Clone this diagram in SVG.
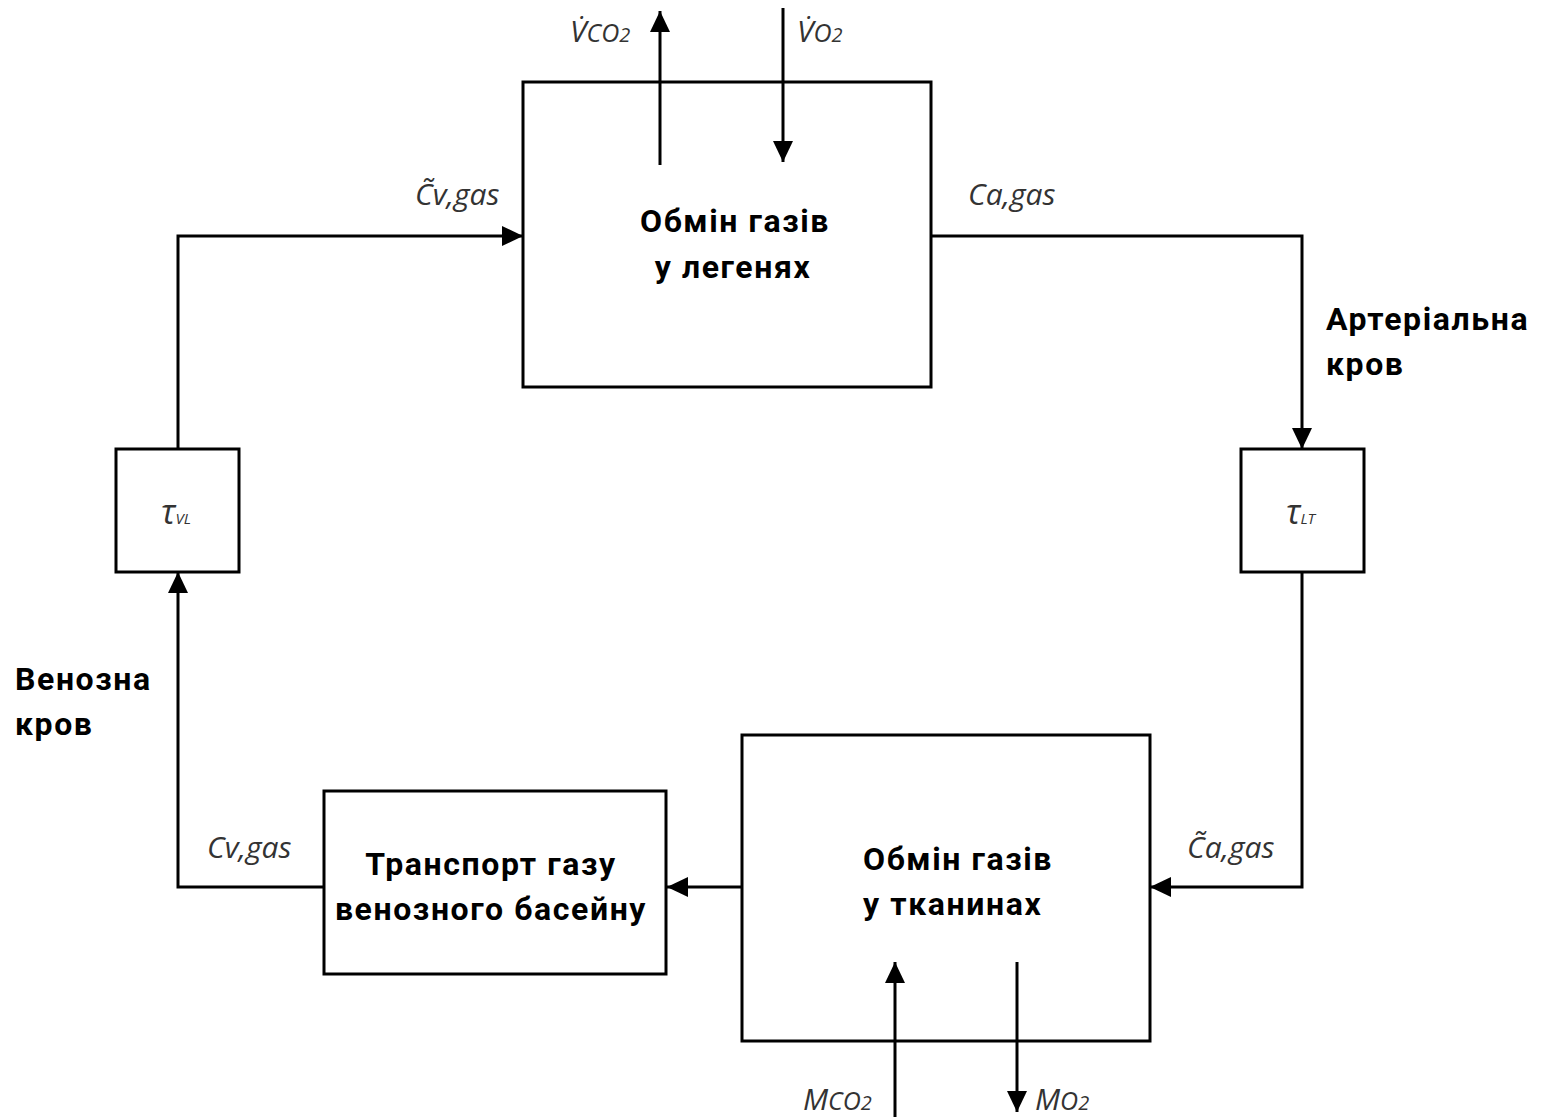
<svg xmlns="http://www.w3.org/2000/svg" width="1545" height="1117" viewBox="0 0 1545 1117">
  <defs>
    <marker id="arrow" viewBox="0 0 10 10" refX="10" refY="5" markerWidth="21" markerHeight="20" markerUnits="userSpaceOnUse" orient="auto" preserveAspectRatio="none">
      <path d="M0,0 L10,5 L0,10 z" fill="#000"/>
    </marker>
    <style>
      .box { fill: #fff; stroke: #000; stroke-width: 3; }
      .wire { fill: none; stroke: #000; stroke-width: 3; }
      .title { font-family: Roboto, "Noto Sans", sans-serif; font-weight: bold; font-size: 32px; letter-spacing: 1.6px; fill: #000; }
      .sym { font-family: "Open Sans", "Noto Sans", sans-serif; font-style: italic; font-size: 30px; fill: #333; }
      .sub { font-size: 25px; }
      .two { font-size: 20px; }
      .tau { font-family: "Open Sans", "Noto Sans", sans-serif; font-style: italic; font-size: 34px; fill: #333; }
      .tsub { font-size: 15px; }
    </style>
  </defs>

  <!-- flows between blocks -->
  <g id="connectors">
    <!-- venous blood up through tau_VL into the lungs -->
    <path class="wire" d="M178,449 V236 H523" marker-end="url(#arrow)"/>
    <!-- arterial blood from the lungs down to tau_LT -->
    <path class="wire" d="M931,236 H1302 V449" marker-end="url(#arrow)"/>
    <!-- tau_LT to tissue exchange -->
    <path class="wire" d="M1302,572 V887 H1150" marker-end="url(#arrow)"/>
    <!-- tissue exchange to venous pool -->
    <path class="wire" d="M742,887 H667" marker-end="url(#arrow)"/>
    <!-- venous pool up to tau_VL -->
    <path class="wire" d="M324,887 H178 V572" marker-end="url(#arrow)"/>
    <!-- lung gas flows -->
    <path class="wire" d="M660,165 V11" marker-end="url(#arrow)"/>
    <path class="wire" d="M783,8 V162" marker-end="url(#arrow)"/>
    <!-- tissue metabolic flows -->
    <path class="wire" d="M895,1117 V962" marker-end="url(#arrow)"/>
    <path class="wire" d="M1017,962 V1112" marker-end="url(#arrow)"/>
  </g>

  <g id="lungs">
    <rect class="box" x="523" y="82" width="408" height="305" style="fill:none"/>
    <text class="title" x="735" y="232" text-anchor="middle">Обмін газів</text>
    <text class="title" x="733" y="278" text-anchor="middle">у легенях</text>
  </g>

  <g id="tau-vl">
    <rect class="box" x="116" y="449" width="123" height="123"/>
    <text class="tau" x="161" y="524">τ<tspan class="tsub">VL</tspan></text>
  </g>

  <g id="tau-lt">
    <rect class="box" x="1241" y="449" width="123" height="123"/>
    <text class="tau" x="1286" y="524">τ<tspan class="tsub">LT</tspan></text>
  </g>

  <g id="tissues">
    <rect class="box" x="742" y="735" width="408" height="306" style="fill:none"/>
    <text class="title" x="863" y="870">Обмін газів</text>
    <text class="title" x="863" y="915">у тканинах</text>
  </g>

  <g id="venous-pool">
    <rect class="box" x="324" y="791" width="342" height="183"/>
    <text class="title" x="491" y="875" text-anchor="middle">Транспорт газу</text>
    <text class="title" x="491" y="920" text-anchor="middle">венозного басейну</text>
  </g>

  <g id="labels">
    <text class="sym" x="570" y="42">V̇<tspan class="sub">CO<tspan class="two">2</tspan></tspan></text>
    <text class="sym" x="797" y="42">V̇<tspan class="sub">O<tspan class="two">2</tspan></tspan></text>
    <text class="sym" x="415" y="205">C̃v,gas</text>
    <text class="sym" x="968" y="205">Ca,gas</text>
    <text class="sym" x="1187" y="858">C̃a,gas</text>
    <text class="sym" x="207" y="858">Cv,gas</text>
    <text class="sym" x="803" y="1110">M<tspan class="sub">CO<tspan class="two">2</tspan></tspan></text>
    <text class="sym" x="1035" y="1110">M<tspan class="sub">O<tspan class="two">2</tspan></tspan></text>
    <text class="title" x="1326" y="330">Артеріальна</text>
    <text class="title" x="1326" y="375">кров</text>
    <text class="title" x="15" y="690">Венозна</text>
    <text class="title" x="15" y="735">кров</text>
  </g>
</svg>
